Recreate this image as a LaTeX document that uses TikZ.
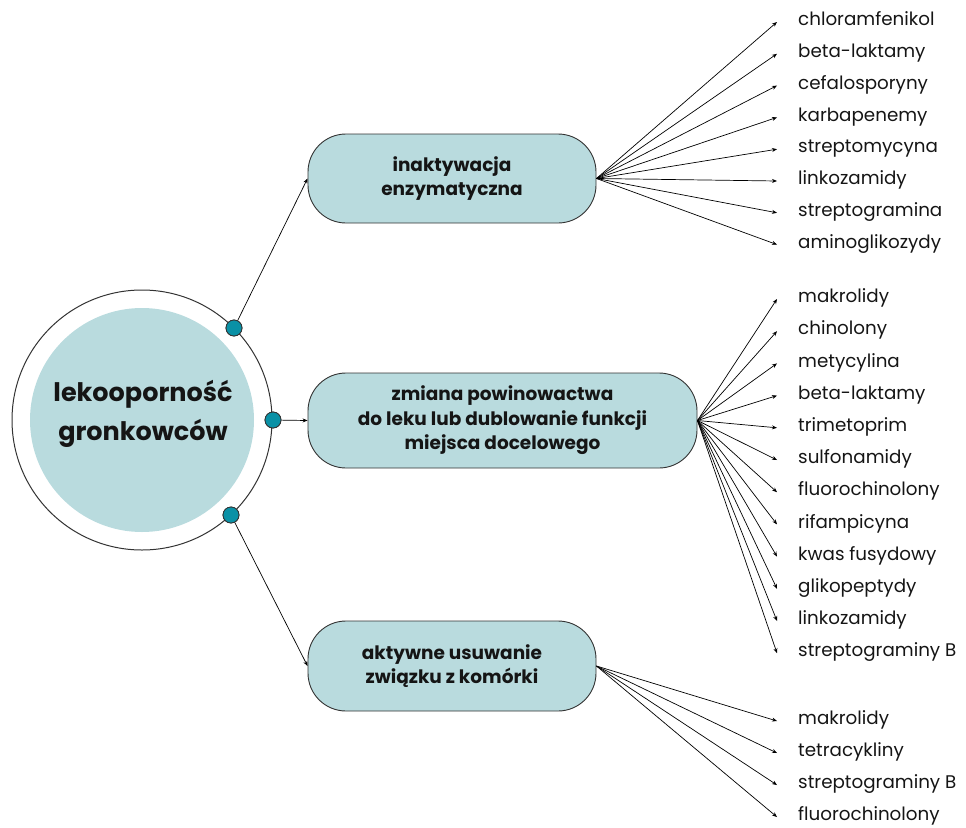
\documentclass[tikz,border=0pt]{standalone}
\usepackage{fontspec}
\setmainfont{Poppins}
\usetikzlibrary{arrows.meta}
\definecolor{boxfill}{HTML}{B9DBDE}
\definecolor{dotfill}{HTML}{0A91A6}
\definecolor{edge}{HTML}{333333}
\definecolor{ink}{HTML}{151515}
\tikzset{
  box/.style={draw=edge, line width=0.9pt, fill=boxfill, rounded corners=38pt, align=center,
    font=\fontsize{18.5}{24.5}\selectfont\bfseries, text=ink, inner sep=0pt},
  lbl/.style={anchor=west, inner sep=0pt, font=\fontsize{18.3}{21}\selectfont, text=ink,
    text height=0.75em, text depth=0.2em},
  arr/.style={draw=black, line width=0.7pt, -{Stealth[length=5pt,width=4pt]}},
  dot/.style={circle, draw=edge, line width=0.8pt, fill=dotfill, minimum size=16pt, inner sep=0pt}
}
\begin{document}
\begin{tikzpicture}[x=1pt,y=-1pt]
\useasboundingbox (0,0) rectangle (966,827);
% central circle
\node[circle, draw=edge, line width=1pt, minimum size=260pt, inner sep=0pt] (outer) at (142,420) {};
\node[circle, fill=boxfill, minimum size=224pt, inner sep=0pt] (main) at (142,420) {};
\node[align=center, inner sep=0pt, font=\fontsize{25.5}{39}\selectfont\bfseries, text=ink] (maintext) at (143,414) {lekooporność\\gronkowców};
% boxes
\node[box, minimum width=288pt, minimum height=89pt] (b1) at (452,178.5) {inaktywacja\\enzymatyczna};
\node[box, minimum width=389pt, minimum height=95pt] (b2) at (502.5,420.5) {zmiana powinowactwa\\do leku lub dublowanie funkcji\\miejsca docelowego};
\node[box, minimum width=288pt, minimum height=90pt] (b3) at (452,666) {aktywne usuwanie\\związku z komórki};
% dots
\node[dot] (d1) at (234,328) {};
\node[dot] (d2) at (273,420) {};
\node[dot] (d3) at (231,515) {};
\draw[arr] (d1) -- (b1.west);
\draw[arr] (d2) -- (b2.west);
\draw[arr] (d3) -- (b3.west);
% fan 1
\foreach \t [count=\i] in {chloramfenikol,beta-laktamy,cefalosporyny,karbapenemy,streptomycyna,linkozamidy,streptogramina,aminoglikozydy}{
  \pgfmathsetmacro{\yy}{21+(\i-1)*31.8}
  \node[lbl] (a\i) at (798,\yy+2) {\t};
  \coordinate (ta\i) at (777,\yy+1);
  \draw[arr] (b1.east) -- (ta\i);
}
% fan 2
\foreach \t [count=\i] in {makrolidy,chinolony,metycylina,beta-laktamy,trimetoprim,sulfonamidy,fluorochinolony,rifampicyna,kwas fusydowy,glikopeptydy,linkozamidy,streptograminy B}{
  \pgfmathsetmacro{\yy}{298+(\i-1)*32.2}
  \node[lbl] (c\i) at (798,\yy+2) {\t};
  \coordinate (tc\i) at (777,\yy+1);
  \draw[arr] (b2.east) -- (tc\i);
}
% fan 3
\foreach \t [count=\i] in {makrolidy,tetracykliny,streptograminy B,fluorochinolony}{
  \pgfmathsetmacro{\yy}{720+(\i-1)*32}
  \node[lbl] (e\i) at (798,\yy+2) {\t};
  \coordinate (te\i) at (777,\yy+1);
  \draw[arr] (b3.east) -- (te\i);
}
% redraw dots on top
\node[dot] at (d1) {};
\node[dot] at (d2) {};
\node[dot] at (d3) {};
\end{tikzpicture}
\end{document}
